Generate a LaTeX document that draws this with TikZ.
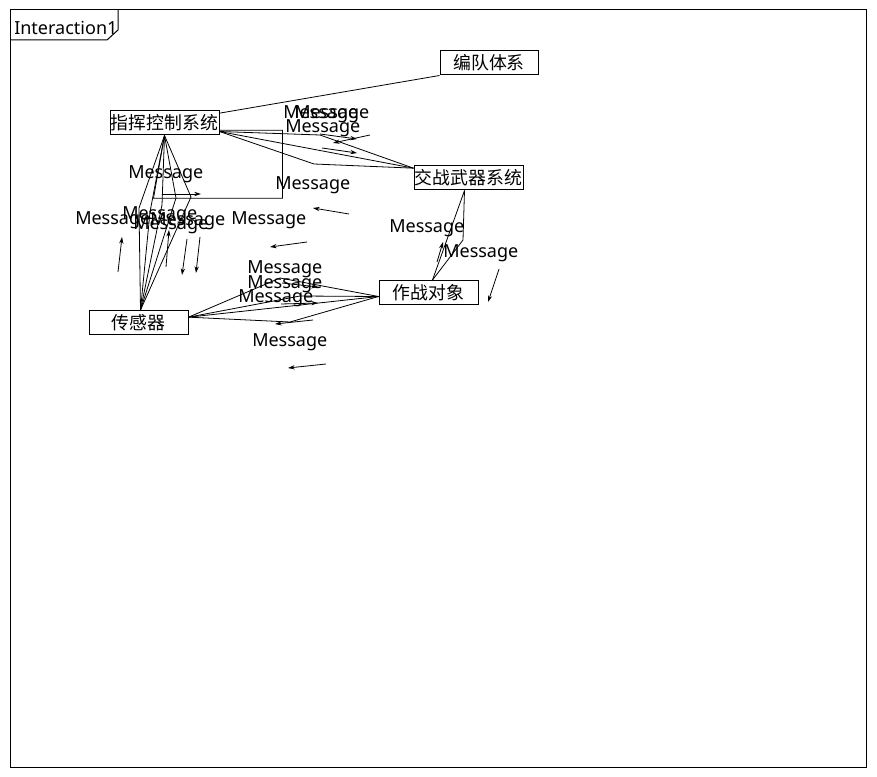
\documentclass[tikz,border=0pt]{standalone}
\usepackage{fontspec}
\setmainfont{Noto Sans}
\newfontfamily\cjk{Noto Sans CJK SC}
\usetikzlibrary{arrows.meta}
\tikzset{
  obj/.style={draw, line width=0.75pt, inner sep=0pt, minimum height=18pt,
    font=\cjk\fontsize{13.4pt}{15pt}\selectfont},
  link/.style={line width=0.6pt},
  frameline/.style={line width=0.75pt},
  msg/.style={anchor=base west, inner sep=0pt, yshift=-1.2pt, font=\fontsize{13.5pt}{15pt}\selectfont},
  marrow/.style={line width=0.6pt, -{Stealth[length=5pt,width=3.2pt]}},
}
\begin{document}
\begin{tikzpicture}[x=0.75pt,y=-0.75pt]
\useasboundingbox (0,0) rectangle (877,777);
% frame
\draw[frameline] (10,10) rectangle (866,767);
\draw[frameline] (10,40) -- (107,40) -- (118,30) -- (118,10);
\node[msg] (title) at (14,33) {Interaction1};

% objects
\node[obj, minimum width=73.5pt]  (bd)  at (489,63)      {编队体系};
\node[obj, minimum width=81.75pt] (zk)  at (164.5,123)   {指挥控制系统};
\node[obj, minimum width=81.75pt] (jz)  at (468.5,178)   {交战武器系统};
\node[obj, minimum width=74.25pt] (zd)  at (428.5,292.5) {作战对象};
\node[obj, minimum width=74.25pt] (cgq) at (138.5,322.5) {传感器};

% links
\draw[link] ([yshift=-2pt]zk.north east) -- (bd.south west);
\draw[link] ([yshift=4pt]zk.south east) -- ++(63,0) -- ++(0,68) -- ++(-129,0) -- (zk.south);

\draw[link] ([yshift=3pt]zk.south east) -- (320,135) -- ([yshift=-2pt]jz.north west);
\draw[link] ([yshift=3pt]zk.south east) -- ([yshift=-2pt]jz.north west);
\draw[link] ([yshift=3pt]zk.south east) -- (314,164) -- ([yshift=-2pt]jz.north west);

\draw[link] (zk.south) -- (139,208) -- ([xshift=1.5pt]cgq.north);
\draw[link] (zk.south) -- (150,212) -- ([xshift=1.5pt]cgq.north);
\draw[link] (zk.south) -- (162,205) -- ([xshift=1.5pt]cgq.north);
\draw[link] (zk.south) -- (176,198) -- ([xshift=1.5pt]cgq.north);
\draw[link] (zk.south) -- (191,197) -- ([xshift=1.5pt]cgq.north);

\draw[link] ([xshift=-3pt]jz.south) -- ([xshift=3pt]zd.north);
\draw[link] ([xshift=-3pt]jz.south) -- (463,240) -- ([xshift=3pt]zd.north);

\draw[link] ([yshift=4pt]cgq.east) -- (280,278) -- ([yshift=-3pt]zd.west);
\draw[link] ([yshift=4pt]cgq.east) -- (300,296) -- ([yshift=-3pt]zd.west);
\draw[link] ([yshift=4pt]cgq.east) -- ([yshift=-3pt]zd.west);
\draw[link] ([yshift=4pt]cgq.east) -- (290,322) -- ([yshift=-3pt]zd.west);

% message labels
\node[msg] (l1)  at (128,177) {Message};
\node[msg] (l2)  at (275,188) {Message};
\node[msg] (l3)  at (231,223) {Message};
\node[msg] (l4a) at (283,117) {Message};
\node[msg] (l4b) at (294,117) {Message};
\node[msg] (l4c) at (285,131) {Message};
\node[msg] (l5a) at (75,223)  {Message};
\node[msg] (l5b) at (122,218) {Message};
\node[msg] (l5c) at (133,228) {Message};
\node[msg] (l5d) at (150,224) {Message};
\node[msg] (l6a) at (247,272) {Message};
\node[msg] (l6b) at (247,287) {Message};
\node[msg] (l6c) at (238,301) {Message};
\node[msg] (l6d) at (252,345) {Message};
\node[msg] (l7a) at (389,231) {Message};
\node[msg] (l7b) at (443,256) {Message};

% message arrows
\draw[marrow] (163,194) -- (201,194);
\draw[marrow] (349,214) -- (313,208);
\draw[marrow] (307,242) -- (270,247);
\draw[marrow] (370,135) -- (333,143);
\draw[marrow] (320,134) -- (357,139);
\draw[marrow] (322,148) -- (357,153);
\draw[marrow] (118,272) -- (122,237);
\draw[marrow] (166,267) -- (169,230);
\draw[marrow] (187,239) -- (182,275);
\draw[marrow] (200,237) -- (196,273);
\draw[marrow] (282,283) -- (318,287);
\draw[marrow] (281,304) -- (318,303);
\draw[marrow] (313,320) -- (275,324);
\draw[marrow] (326,364) -- (288,368);
\draw[marrow] (499,269) -- (488,302);
\draw[marrow] (437,262) -- (443,242);
\end{tikzpicture}
\end{document}
